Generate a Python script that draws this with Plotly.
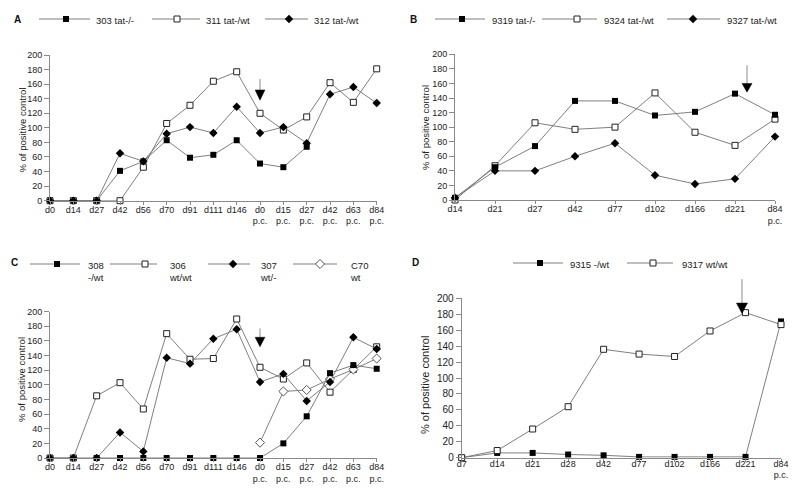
import plotly.graph_objects as go

# ---------------- data ----------------
cats_AC = ["d0", "d14", "d27", "d42", "d56", "d70", "d91", "d111", "d146",
           "d0<br>p.c.", "d15<br>p.c.", "d27<br>p.c.", "d42<br>p.c.", "d63<br>p.c.", "d84<br>p.c."]
cats_B = ["d14", "d21", "d27", "d42", "d77", "d102", "d166", "d221", "d84<br>p.c."]
cats_D = ["d7", "d14", "d21", "d28", "d42", "d77", "d102", "d166", "d221", "d84<br>p.c."]

a_303 = [0, 0, 0, 41, 54, 83, 59, 63, 83, 51, 46, 74]
a_311 = [0, 0, 0, 0, 46, 106, 131, 164, 177, 120, 97, 115, 162, 135, 181]
a_312 = [0, 0, 0, 65, 54, 92, 101, 93, 129, 93, 101, 79, 146, 156, 134]

b_9319 = [3, 45, 74, 136, 136, 116, 121, 146, 117]
b_9324 = [0, 47, 106, 97, 100, 147, 93, 75, 111]
b_9327 = [3, 40, 40, 60, 78, 34, 22, 29, 87]

c_308 = [None, None, 0, 0, 0, 0, 0, 0, 0, 0, 20, 57, 116, 127, 122]
c_306 = [0, 0, 85, 103, 67, 170, 135, 136, 190, 124, 108, 130, 90, 121, 152]
c_307 = [0, 0, 0, 35, 9, 137, 129, 163, 176, 104, 115, 78, 104, 165, 149]
c_C70 = [None] * 9 + [21, 91, 93, 108, 121, 136]

d_9315 = [0, 6, 6, 4, 3, 1, 1, 1, 1, 171]
d_9317 = [0, 9, 36, 64, 136, 130, 127, 159, 182, 167]

y_ticks = [0, 20, 40, 60, 80, 100, 120, 140, 160, 180, 200]
y_title = "% of positive control"

# arrows: (category index, line top, triangle top, tip) in data units
arrow_A = (9, 167, 152, 138)
arrow_B = (7.3, 185, 160, 148)
arrow_C = (9, 177, 165, 152)
arrow_D = (7.9, 224, 194, 181)

# ---------------- styles ----------------
LINE = dict(color="#707070", width=0.9)
FILL_SQ = dict(symbol="square", size=6, color="black", line=dict(width=0))
OPEN_SQ = dict(symbol="square", size=6, color="white", line=dict(color="#222", width=1))
FILL_DM = dict(symbol="diamond", size=6.5, color="black", line=dict(width=0))
OPEN_DM = dict(symbol="diamond", size=7, color="white", line=dict(color="#555", width=1))

W, H = 800, 490
OFF = 8  # page body margin: figure origin sits at (8, 8) in the window


def px(x):
    return (x - OFF) / W


def py(y):
    return 1 - (y - OFF) / H


fig = go.Figure()


def add(xa, ya, ys, marker):
    xs = list(range(len(ys)))
    fig.add_trace(go.Scatter(
        x=xs, y=ys, mode="lines+markers", line=LINE, marker=marker,
        xaxis=xa, yaxis=ya, cliponaxis=False, connectgaps=False,
        hoverinfo="skip", showlegend=False))


# Panel A
add("x", "y", a_303, FILL_SQ)
add("x", "y", a_311, OPEN_SQ)
add("x", "y", a_312, FILL_DM)
# Panel B
add("x2", "y2", b_9324, OPEN_SQ)
add("x2", "y2", b_9319, FILL_SQ)
add("x2", "y2", b_9327, FILL_DM)
# Panel C
add("x3", "y3", c_306, OPEN_SQ)
add("x3", "y3", c_C70, OPEN_DM)
add("x3", "y3", c_307, FILL_DM)
add("x3", "y3", c_308, FILL_SQ)
# Panel D
add("x4", "y4", d_9315, FILL_SQ)
add("x4", "y4", d_9317, OPEN_SQ)

# ---------------- legends (drawn on a hidden pixel-space overlay axis) ----------------
# (name, marker, line start px, line end px, marker px, text px, row y px)
legend_entries = [
    ("303 tat-/-", FILL_SQ, 39, 90, 66, 94, 19),
    ("311 tat-/wt", OPEN_SQ, 152, 200, 177, 204, 19),
    ("312 tat-/wt", FILL_DM, 265, 308, 289, 312, 19),
    ("9319 tat-/-", FILL_SQ, 435, 485, 462, 490, 19),
    ("9324 tat-/wt", OPEN_SQ, 542, 597, 577, 602, 19),
    ("9327 tat-/wt", FILL_DM, 667, 720, 693, 725, 19),
    ("308<br>-/wt", FILL_SQ, 30, 80, 57, 86, 264),
    ("306<br>wt/wt", OPEN_SQ, 110, 157, 145, 167, 264),
    ("307<br>wt/-", FILL_DM, 208, 250, 233, 258, 264),
    ("C70<br>wt", OPEN_DM, 293, 337, 320, 348, 264),
    ("9315 -/wt", FILL_SQ, 513, 563, 540, 568, 263),
    ("9317 wt/wt", OPEN_SQ, 627, 673, 653, 680, 263),
]
for name, mk, x0, x1, xm, xt, yy in legend_entries:
    fig.add_trace(go.Scatter(x=[x0, x1], y=[yy, yy], mode="lines", line=LINE,
                             xaxis="x5", yaxis="y5", hoverinfo="skip", showlegend=False))
    fig.add_trace(go.Scatter(x=[xm], y=[yy], mode="markers", marker=mk, cliponaxis=False,
                             xaxis="x5", yaxis="y5", hoverinfo="skip", showlegend=False))
    fig.add_annotation(text=name, x=px(xt), y=py(yy - 6), xref="paper", yref="paper",
                       showarrow=False, xanchor="left", yanchor="top", align="left",
                       font=dict(size=9.5, color="#222"))


def xaxis(x0, x1, cats, anchor, size=9, standoff=-3):
    n = len(cats)
    return dict(domain=[px(x0), px(x1)], range=[0, n - 1], anchor=anchor,
                tickmode="array", tickvals=list(range(n)), ticktext=cats,
                ticks="outside", ticklen=3, tickcolor="#8a8a8a",
                showline=True, linecolor="#8a8a8a", linewidth=1, showgrid=False, zeroline=False,
                tickfont=dict(size=size), fixedrange=True, automargin=False,
                ticklabelstandoff=standoff)


def yaxis(y0, y1, anchor, size=9):
    return dict(domain=[py(y0), py(y1)], range=[0, 200], anchor=anchor,
                tickmode="array", tickvals=y_ticks, ticks="outside", ticklen=5, tickcolor="#8a8a8a",
                showline=True, linecolor="#8a8a8a", linewidth=1, showgrid=False, zeroline=False,
                tickfont=dict(size=size), fixedrange=True, automargin=False)


fig.update_layout(
    width=W, height=H, margin=dict(l=0, r=0, t=0, b=0),
    plot_bgcolor="rgba(0,0,0,0)", paper_bgcolor="white", showlegend=False,
    font=dict(family="Liberation Sans, Arial, sans-serif", size=9, color="#222"),
    xaxis=xaxis(50, 376.7, cats_AC, "y"),
    yaxis=yaxis(200.7, 55, "x"),
    xaxis2=xaxis(455, 775, cats_B, "y2"),
    yaxis2=yaxis(200, 54.3, "x2"),
    xaxis3=xaxis(50, 376.7, cats_AC, "y3"),
    yaxis3=yaxis(458, 311.7, "x3"),
    xaxis4=xaxis(461.7, 781, cats_D, "y4", standoff=-6),
    yaxis4=yaxis(457.7, 298.3, "x4", size=10),
    xaxis5=dict(domain=[0, 1], range=[OFF, W + OFF], visible=False, fixedrange=True, anchor="y5"),
    yaxis5=dict(domain=[0, 1], range=[H + OFF, OFF], visible=False, fixedrange=True, anchor="x5"),
)

# y-axis titles
for tx, ty, ts in [(21.5, 130, 9.5), (425, 128, 9.5), (21, 380, 9.5), (425, 385, 11)]:
    fig.add_annotation(text=y_title, x=px(tx), y=py(ty), xref="paper", yref="paper",
                       textangle=-90, showarrow=False, xanchor="center", yanchor="middle",
                       font=dict(size=ts, color="#222"))

# panel letters
for letter, (lx, ly) in {"A": (17, 19), "B": (413, 19), "C": (14, 262), "D": (415, 262)}.items():
    fig.add_annotation(text="<b>%s</b>" % letter, x=px(lx), y=py(ly), xref="paper", yref="paper",
                       showarrow=False, font=dict(size=10, color="#111"), xanchor="center", yanchor="middle")

# arrows
for (xi, top, ttop, tip), xr, yr, hw in [(arrow_A, "x", "y", 0.21), (arrow_B, "x2", "y2", 0.125),
                                         (arrow_C, "x3", "y3", 0.21), (arrow_D, "x4", "y4", 0.155)]:
    fig.add_shape(type="line", xref=xr, yref=yr + " domain", x0=xi, x1=xi, y0=top / 200, y1=ttop / 200,
                  line=dict(color="#8a8a8a", width=1))
    fig.add_shape(type="path", xref=xr, yref=yr,
                  path="M{0},{1} L{2},{1} L{3},{4} Z".format(xi - hw, ttop, xi + hw, xi, tip),
                  fillcolor="black", line=dict(color="black", width=0.5))

fig.write_html("out.html")
